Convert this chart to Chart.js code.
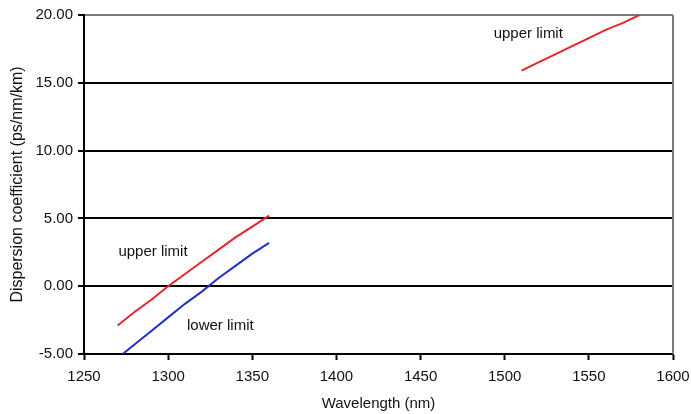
<!DOCTYPE html>
<html>
<head>
<meta charset="utf-8">
<script src="https://cdn.jsdelivr.net/npm/chart.js@4.4.1/dist/chart.umd.min.js"></script>
<style>
  html, body { margin: 0; padding: 0; background: #ffffff; }
  #wrap { width: 691px; height: 414px; }
</style>
</head>
<body>
<div id="wrap"><canvas id="c" width="691" height="414"></canvas></div>
<script>
// Wavelength (nm) and dispersion coefficient (ps/nm/km) for each limit curve
const lowUpperX = [1270, 1280, 1290, 1300, 1310, 1320, 1330, 1340, 1350, 1360];
const lowUpperY = [-2.9, -1.9, -1.0, 0.0, 0.9, 1.8, 2.7, 3.6, 4.4, 5.2];
const lowerX = [1273, 1280, 1290, 1300, 1310, 1320, 1330, 1340, 1350, 1360];
const lowerY = [-5.0, -4.3, -3.3, -2.3, -1.3, -0.4, 0.6, 1.5, 2.4, 3.2];
const highUpperX = [1510, 1520, 1530, 1540, 1550, 1560, 1570, 1580];
const highUpperY = [15.9, 16.5, 17.1, 17.7, 18.3, 18.9, 19.4, 20.0];

// Curve captions and where they sit (data coordinates)
const captionText = ['upper limit', 'lower limit', 'upper limit'];
const captionX = [1291, 1331, 1514];
const captionY = [2.5, -2.9, 18.6];

const xTicks = [1250, 1300, 1350, 1400, 1450, 1500, 1550, 1600];
const yTicks = [-5, 0, 5, 10, 15, 20];

const FONT = '"Liberation Sans", Arial, sans-serif';
const TEXT = '#111111';

function pts(xs, ys) { return xs.map((x, i) => ({ x: x, y: ys[i] })); }

const frame = {
  id: 'frame',
  afterDraw(chart) {
    const { ctx, chartArea: a } = chart;
    ctx.save();
    ctx.strokeStyle = '#7a7a7a';
    ctx.lineWidth = 2;
    ctx.beginPath();
    ctx.moveTo(a.right, a.top);
    ctx.lineTo(a.right, a.bottom);
    ctx.stroke();
    // captions
    const xs = chart.scales.x, ys = chart.scales.y;
    ctx.fillStyle = TEXT;
    ctx.font = '15px ' + FONT;
    ctx.textAlign = 'center';
    ctx.textBaseline = 'middle';
    captionText.forEach((t, i) => {
      ctx.fillText(t, xs.getPixelForValue(captionX[i]), ys.getPixelForValue(captionY[i]));
    });
    ctx.restore();
  }
};

new Chart(document.getElementById('c'), {
  type: 'scatter',
  data: {
    datasets: [
      { data: pts(lowUpperX, lowUpperY), borderColor: '#e3262c', borderWidth: 2, showLine: true, pointRadius: 0, tension: 0 },
      { data: pts(lowerX, lowerY), borderColor: '#2030c8', borderWidth: 2, showLine: true, pointRadius: 0, tension: 0 },
      { data: pts(highUpperX, highUpperY), borderColor: '#e3262c', borderWidth: 2, showLine: true, pointRadius: 0, tension: 0 }
    ]
  },
  options: {
    responsive: false,
    animation: false,
    layout: { padding: { top: 15, right: 18, left: 0, bottom: 0 } },
    plugins: { legend: { display: false }, tooltip: { enabled: false } },
    scales: {
      x: {
        type: 'linear',
        min: 1250, max: 1600,
        afterBuildTicks(s) { s.ticks = xTicks.map(v => ({ value: v })); },
        afterFit(s) { s.height = 60; s.paddingRight = 0; s.paddingLeft = 0; },
        ticks: { color: TEXT, font: { family: FONT, size: 15 }, padding: 8, maxRotation: 0, autoSkip: false, callback: v => String(v) },
        grid: { drawOnChartArea: false, drawTicks: true, tickLength: 6, tickColor: '#000', tickWidth: 2 },
        border: { color: '#000', width: 2 },
        title: { display: true, text: 'Wavelength (nm)', color: TEXT, font: { family: FONT, size: 15 }, padding: { top: 0, bottom: 1 } }
      },
      y: {
        min: -5, max: 20,
        afterBuildTicks(s) { s.ticks = yTicks.map(v => ({ value: v })); },
        afterFit(s) { s.width = 84; },
        ticks: { color: TEXT, font: { family: FONT, size: 15 }, padding: 5, callback: v => v.toFixed(2) },
        grid: {
          color: c => (c.tick && c.tick.value === 20) ? '#7a7a7a' : '#000',
          lineWidth: 2,
          drawTicks: true, tickLength: 6, tickColor: '#000'
        },
        border: { color: '#000', width: 2 },
        title: { display: true, text: 'Dispersion coefficient (ps/nm/km)', color: TEXT, font: { family: FONT, size: 16 }, padding: { top: 8, bottom: 0 } }
      }
    }
  },
  plugins: [frame]
});
</script>
</body>
</html>
